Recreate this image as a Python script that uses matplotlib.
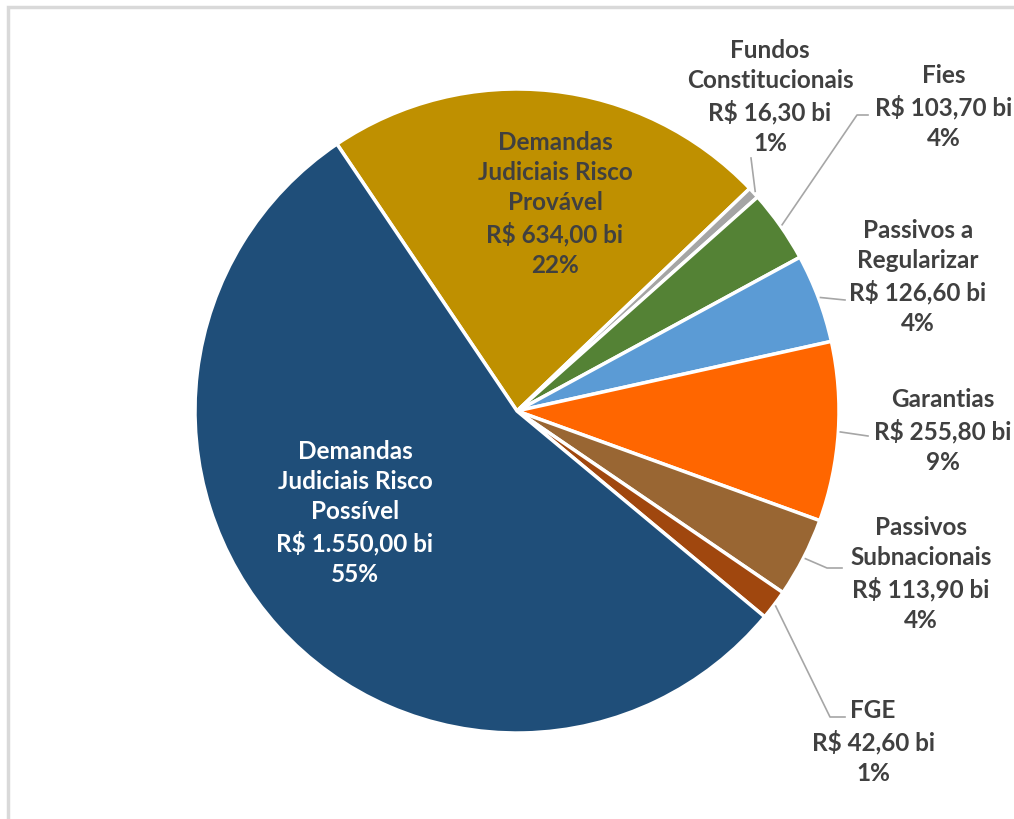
import numpy as np
import matplotlib.pyplot as plt
from matplotlib.patches import Rectangle

# Dados (R$ bilhões)
categorias = ['Demandas\nJudiciais Risco\nProvável', 'Fundos\nConstitucionais', 'Fies',
              'Passivos a\nRegularizar', 'Garantias', 'Passivos\nSubnacionais', 'FGE',
              'Demandas\nJudiciais Risco\nPossível']
valores = [634.00, 16.30, 103.70, 126.60, 255.80, 113.90, 42.60, 1550.00]
percentuais = ['22%', '1%', '4%', '4%', '9%', '4%', '1%', '55%']
cores = ['#BF9000', '#A5A5A5', '#548235', '#5B9BD5', '#FF6600', '#996633', '#A0470E', '#1F4E79']


def fmt_brl(v):
    s = f'{v:,.2f}'.replace(',', 'X').replace('.', ',').replace('X', '.')
    return f'R$ {s} bi'


plt.rcParams['font.family'] = ['Lato', 'DejaVu Sans']

fig = plt.figure(figsize=(10.14, 8.19), dpi=100)
ax = fig.add_axes([0, 0, 1, 1])

# moldura
ax.add_patch(Rectangle((8, -20), 1100, 819 - 7 + 20, fill=False, edgecolor='#D9D9D9', lw=2.5))

cx, cy, r = 517, 819 - 411, 322
wedges, _ = ax.pie(valores, colors=cores, startangle=124, counterclock=False,
                   center=(cx, cy), radius=r, frame=True,
                   wedgeprops=dict(edgecolor='white', linewidth=2.5))
ax.set_xlim(0, 1014)
ax.set_ylim(0, 819)
ax.set_aspect('equal')
ax.axis('off')

# posição dos rótulos (px na imagem) e pontos de quebra das linhas guia
pos = [(555, 204), (770, 97), (944, 107), (918, 277), (943, 431), (921, 574), (873, 742), (355, 513)]
guias = [None,
         [(751, 158)],
         [(857, 115), (868, 115)],
         [(845, 300)],
         [(868, 436)],
         [(827, 568), (842, 568)],
         [(830, 717), (845, 717)],
         None]

for i, w in enumerate(wedges):
    texto = f'{categorias[i]}\n{fmt_brl(valores[i])}\n{percentuais[i]}'
    x, y = pos[i]
    ax.text(x, 819 - y, texto, ha='center', va='center', fontsize=17.5, fontweight='bold',
            color='white' if i == 7 else '#404040', linespacing=1.38)
    if guias[i] is not None:
        ang = np.deg2rad((w.theta1 + w.theta2) / 2)
        pts = [(cx + (r + 2) * np.cos(ang), cy + (r + 2) * np.sin(ang))]
        pts += [(px, 819 - py) for px, py in guias[i]]
        xs, ys = zip(*pts)
        ax.plot(xs, ys, color='#A6A6A6', lw=1.2)

fig.savefig('out.png', dpi=100, facecolor='white')
